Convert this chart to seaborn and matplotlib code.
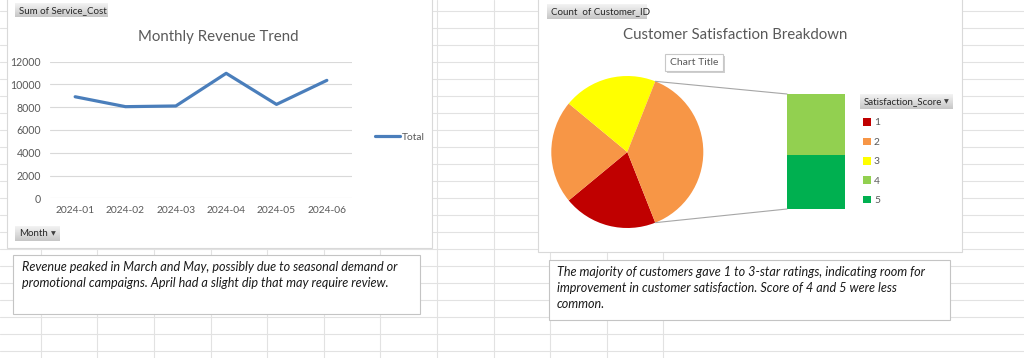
import numpy as np
import pandas as pd
import matplotlib
matplotlib.use("Agg")
import matplotlib.pyplot as plt
from matplotlib.patches import Rectangle, Patch
from matplotlib.patches import ConnectionPatch
import seaborn as sns

# ---------------- data ----------------
months = ["2024-01", "2024-02", "2024-03", "2024-04", "2024-05", "2024-06"]
revenue = [8920, 8050, 8110, 10980, 8250, 10360]
y_ticks = [0, 2000, 4000, 6000, 8000, 10000, 12000]

scores = ["1", "2", "3", "4", "5"]
score_counts = [20, 22, 20, 20, 18]
score_colors = ["#C00000", "#F79646", "#FFFF00", "#92D050", "#00B050"]
other_color = "#F79646"

left_note = ("Revenue peaked in March and May, possibly due to seasonal demand or\n"
             "promotional campaigns. April had a slight dip that may require review.")
right_note = ("The majority of customers gave 1 to 3-star ratings, indicating room for\n"
              "improvement in customer satisfaction. Score of 4 and 5 were less\n"
              "common.")

# ---------------- setup ----------------
sns.set_theme(style="white")
plt.rcParams["font.family"] = ["Lato", "DejaVu Sans"]
W, H = 1024, 358
fig = plt.figure(figsize=(W / 100, H / 100), dpi=100)
fig.patch.set_facecolor("white")


def ax_px(x0, y0, x1, y1, **kw):
    return fig.add_axes([x0 / W, 1 - y1 / H, (x1 - x0) / W, (y1 - y0) / H], **kw)


bg = ax_px(0, 0, W, H)
bg.set_xlim(0, W)
bg.set_ylim(H, 0)
bg.axis("off")

# spreadsheet grid
grid_c = "#e2e2e2"
for k in range(-1, 12):
    x = 437 + 56.6 * (k - 7)
    bg.plot([x, x], [0, H], color=grid_c, lw=0.8, zorder=0)
for k in range(0, 21):
    y = 11 + 17.0 * k
    bg.plot([0, W], [y, y], color=grid_c, lw=0.8, zorder=0)

# chart areas and text boxes
def box(x0, y0, x1, y1, ec="#d9d9d9", lw=0.8, z=1):
    bg.add_patch(Rectangle((x0, y0), x1 - x0, y1 - y0, facecolor="white",
                           edgecolor=ec, lw=lw, zorder=z))

box(7, -5, 432, 248)
box(538, -5, 962, 252)
box(13, 255, 420, 314, ec="#c4c4c4")
box(549, 260, 950, 320, ec="#c4c4c4")

# field buttons with gradient
grad = np.linspace(0.95, 0.78, 20).reshape(-1, 1)
def button(x0, y0, x1, y1, label, arrow=False):
    bg.imshow(grad, cmap="gray", vmin=0, vmax=1, extent=(x0, x1, y1, y0),
              origin="upper", aspect="auto", zorder=3, interpolation="bilinear")
    bg.text(x0 + 4, (y0 + y1) / 2 + 0.5, label, fontsize=7.0, color="#262626",
            ha="left", va="center", zorder=4)
    if arrow:
        bg.text(x1 - 7, (y0 + y1) / 2 + 0.5, "\u25bc", fontsize=4.5, color="#404040",
                ha="center", va="center", family="DejaVu Sans", zorder=4)

button(15, 3, 108, 17, "Sum of Service_Cost")
button(15, 226, 60, 241, "Month", arrow=True)
button(547, 4, 647, 19, "Count  of Customer_ID")
button(860, 94, 953, 109, "Satisfaction_Score", arrow=True)
bg.set_xlim(0, W)
bg.set_ylim(H, 0)

# titles
bg.text(218, 37, "Monthly Revenue Trend", fontsize=10.8, color="#595959",
        ha="center", va="center", zorder=4)
bg.text(735, 35, "Customer Satisfaction Breakdown", fontsize=10.8, color="#595959",
        ha="center", va="center", zorder=4)
# "Chart Title" placeholder box with shadow
bg.add_patch(Rectangle((667, 56), 58, 17, facecolor="#cfcfcf", edgecolor="none", zorder=3))
bg.add_patch(Rectangle((665, 54), 58, 17, facecolor="white", edgecolor="#c8c8c8", lw=0.8, zorder=4))
bg.text(694, 62.5, "Chart Title", fontsize=7.5, color="#595959", ha="center", va="center", zorder=5)

# notes
bg.text(22, 261, left_note, fontsize=9.1, style="italic", color="#1a1a1a",
        ha="left", va="top", linespacing=1.42, zorder=4)
bg.text(557, 266, right_note, fontsize=9.1, style="italic", color="#1a1a1a",
        ha="left", va="top", linespacing=1.42, zorder=4)

# ---------------- line chart ----------------
ax = ax_px(50, 61.7, 352, 198.3)
ax.patch.set_alpha(0)
df = pd.DataFrame({"Month": months, "Total": revenue})
sns.lineplot(data=df, x="Month", y="Total", ax=ax, color="#4a7ebb", lw=2.3,
             label="Total", sort=False)
ax.set_xlim(-0.5, len(months) - 0.5)
ax.set_ylim(0, 12000)
ax.set_yticks(y_ticks)
ax.set_yticklabels([str(v) for v in y_ticks])
ax.grid(axis="y", color="#d9d9d9", lw=0.8)
ax.grid(axis="x", visible=False)
for s in ax.spines.values():
    s.set_visible(False)
ax.tick_params(axis="y", length=0, pad=6.5, labelsize=7.6, labelcolor="#595959")
ax.tick_params(axis="x", length=0, pad=5.5, labelsize=7.4, labelcolor="#595959")
ax.set_xlabel("")
ax.set_ylabel("")
ax.legend(loc="center left", bbox_to_anchor=(366 / W, 1 - 137 / H),
          bbox_transform=fig.transFigure, frameon=False, fontsize=7.4,
          labelcolor="#595959", handlelength=2.4, handletextpad=0.15)

# ---------------- bar of pie ----------------
n_main = 3
main_vals = score_counts[:n_main]
other_vals = score_counts[n_main:]
other_total = sum(other_vals)
total = sum(score_counts)
pie_vals = main_vals + [other_total]
pie_cols = score_colors[:n_main] + [other_color]
half = 180.0 * other_total / total

pax = ax_px(551.3, 76, 703.3, 228)
wedges, _ = pax.pie(pie_vals, colors=pie_cols, startangle=-half, counterclock=False,
                    radius=1, wedgeprops=dict(linewidth=0))
pax.set_xlim(-1, 1)
pax.set_ylim(-1, 1)
pax.set_aspect("equal")
pax.axis("off")

bax = ax_px(787, 94, 845, 209)
bottom = 0
for v, c in zip(other_vals[::-1], score_colors[n_main:][::-1]):
    bax.bar([0], [v], bottom=bottom, width=1.0, color=c, linewidth=0)
    bottom += v
bax.set_xlim(-0.5, 0.5)
bax.set_ylim(0, other_total)
bax.axis("off")

t = np.deg2rad(half)
for py, by in [(np.sin(t), other_total), (-np.sin(t), 0)]:
    con = ConnectionPatch(xyA=(np.cos(t), py), coordsA=pax.transData,
                          xyB=(-0.5, by), coordsB=bax.transData,
                          color="#a6a6a6", lw=0.8)
    fig.add_artist(con)

handles = [Patch(facecolor=c, edgecolor="none") for c in score_colors]
fig.legend(handles, scores, loc="upper left", bbox_to_anchor=(858 / W, 1 - 113 / H),
           frameon=False, fontsize=7.4, labelcolor="#595959", handlelength=0.75,
           handleheight=0.75, handletextpad=0.3, labelspacing=0.98, borderpad=0)

fig.savefig("out.png", dpi=100)
